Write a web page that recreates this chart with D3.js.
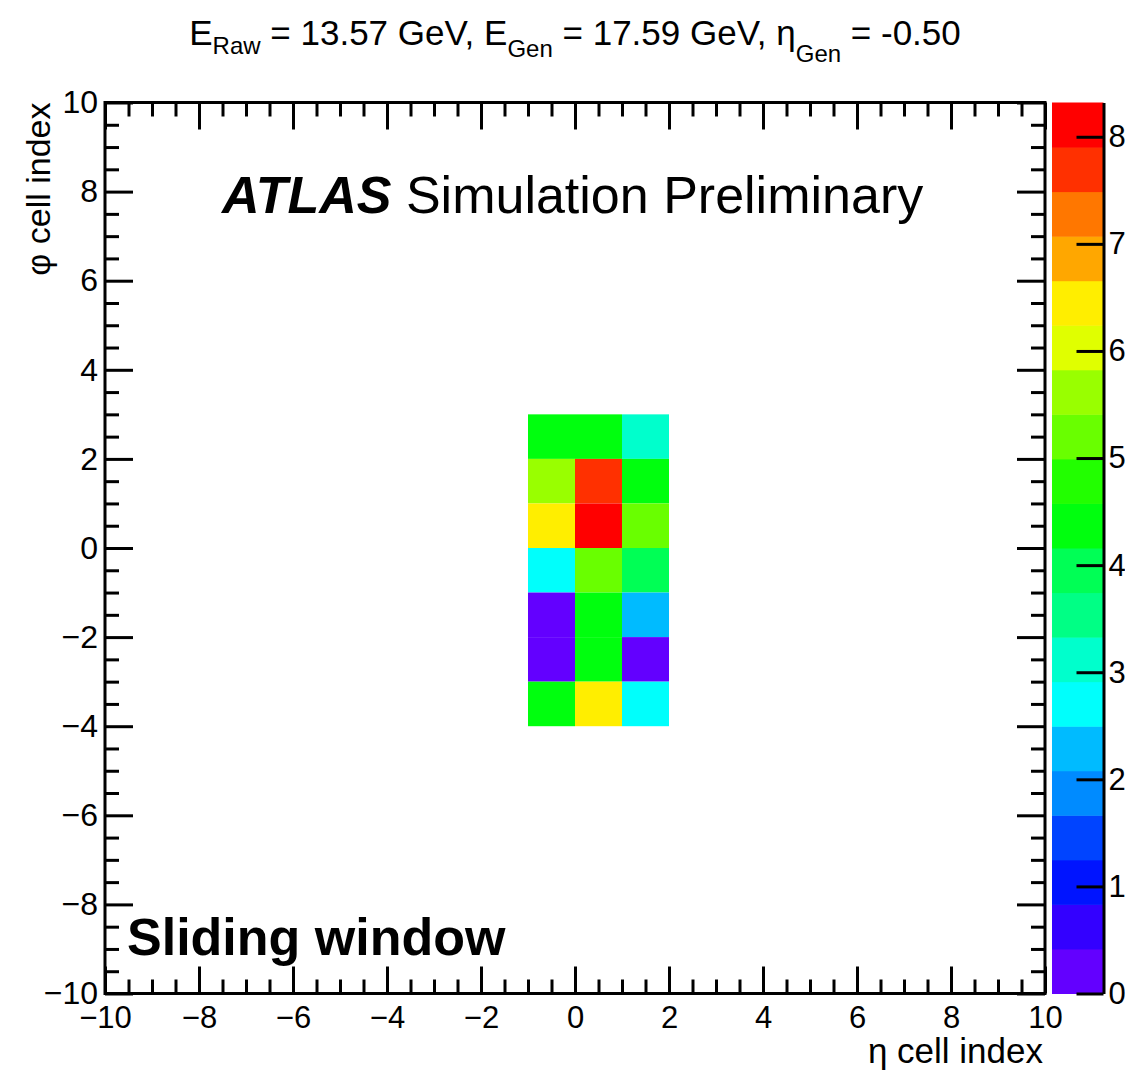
<!DOCTYPE html>
<html>
<head>
<meta charset="utf-8">
<script src="https://cdn.jsdelivr.net/npm/d3@7"></script>
<style>
body { margin: 0; background: #fff; }
text { font-family: "Liberation Sans", Arial, Helvetica, sans-serif; fill: #000; }
</style>
</head>
<body>
<div id="chart"></div>
<script>
/* cell lower edges in eta (columns) and phi (rows) */
var etaEdges = [-1, 0, 1];
var phiEdges = [2, 1, 0, -1, -2, -3, -4];

/* cell energies, one row per phi edge, one column per eta edge */
var cellValues = [
    [4.40, 4.35, 3.10],
    [5.60, 7.70, 4.40],
    [6.45, 8.32, 5.20],
    [2.70, 5.25, 3.90],
    [0.15, 4.40, 2.30],
    [0.20, 4.45, 0.25],
    [4.40, 6.50, 2.75]
];

var zMax = 8.32;          /* top of the colour bar */
var nContours = 20;       /* number of colour bands */
var axisMajor = [-10, -8, -6, -4, -2, 0, 2, 4, 6, 8, 10];
var zTickValues = [0, 1, 2, 3, 4, 5, 6, 7, 8];

var titleParts = [
    { t: "E" }, { t: "Raw", sub: 9 },
    { t: " = 13.57 GeV, E" }, { t: "Gen", sub: 12 },
    { t: " = 17.59 GeV, \u03b7" }, { t: "Gen", sub: 17 },
    { t: " = -0.50" }
];

var width = 1125, height = 1070;
var frame = { left: 105, right: 1045, top: 102.5, bottom: 993.5 };
var bar = { left: 1052, right: 1103.5 };

var svg = d3.select("#chart").append("svg")
    .attr("width", width)
    .attr("height", height);

var x = d3.scaleLinear().domain([-10, 10]).range([frame.left, frame.right]);
var y = d3.scaleLinear().domain([-10, 10]).range([frame.bottom, frame.top]);
var z = d3.scaleLinear().domain([0, zMax]).range([frame.bottom, frame.top]);

/* ROOT "pretty" palette: 50 colours, violet -> red */
var palette = d3.range(50).map(function (i) {
    var hue = 280 - (i + 1) * 280 / 50;
    return d3.hsl(hue, 1, 0.5).formatHex();
});
var bandColours = d3.range(nContours).map(function (j) {
    return palette[Math.min(49, Math.floor((j + 0.99) * 50 / nContours))];
});
var colour = d3.scaleQuantize().domain([0, zMax]).range(bandColours);

/* minor ticks every 0.5 */
var axisMinor = d3.range(-10, 10.01, 0.5).filter(function (v) { return axisMajor.indexOf(v) < 0; });

/* the cells */
var cells = [];
phiEdges.forEach(function (phi, r) {
    etaEdges.forEach(function (eta, c) {
        cells.push({ eta: eta, phi: phi, v: cellValues[r][c] });
    });
});

svg.append("g").selectAll("rect")
    .data(cells)
    .enter().append("rect")
    .attr("x", function (d) { return x(d.eta); })
    .attr("y", function (d) { return y(d.phi + 1); })
    .attr("width", function (d) { return x(d.eta + 1) - x(d.eta); })
    .attr("height", function (d) { return y(d.phi) - y(d.phi + 1); })
    .attr("fill", function (d) { return colour(d.v); });

/* axes: ticks inside the frame on all four sides */
function styleAxis(g) {
    g.select(".domain").remove();
    g.selectAll(".tick line").attr("stroke", "#000").attr("stroke-width", 3);
    g.selectAll("text").attr("fill", "#000").style("font-family", "Liberation Sans, Arial, sans-serif");
}

var bottomG = svg.append("g").attr("transform", "translate(0," + frame.bottom + ")");
bottomG.append("g").call(d3.axisBottom(x).tickValues(axisMinor).tickSize(-14).tickFormat("")).call(styleAxis);
bottomG.append("g").call(d3.axisBottom(x).tickValues(axisMajor).tickSize(-27).tickPadding(12)).call(styleAxis)
    .selectAll("text").style("font-size", "31px");

var topG = svg.append("g").attr("transform", "translate(0," + frame.top + ")");
topG.append("g").call(d3.axisTop(x).tickValues(axisMinor).tickSize(-14).tickFormat("")).call(styleAxis);
topG.append("g").call(d3.axisTop(x).tickValues(axisMajor).tickSize(-27).tickFormat("")).call(styleAxis);

var leftG = svg.append("g").attr("transform", "translate(" + frame.left + ",0)");
leftG.append("g").call(d3.axisLeft(y).tickValues(axisMinor).tickSize(-14).tickFormat("")).call(styleAxis);
leftG.append("g").call(d3.axisLeft(y).tickValues(axisMajor).tickSize(-28).tickPadding(7)).call(styleAxis)
    .selectAll("text").style("font-size", "32px");

var rightG = svg.append("g").attr("transform", "translate(" + frame.right + ",0)");
rightG.append("g").call(d3.axisRight(y).tickValues(axisMinor).tickSize(-14).tickFormat("")).call(styleAxis);
rightG.append("g").call(d3.axisRight(y).tickValues(axisMajor).tickSize(-28).tickFormat("")).call(styleAxis);

/* frame */
svg.append("rect")
    .attr("x", frame.left)
    .attr("y", frame.top)
    .attr("width", frame.right - frame.left)
    .attr("height", frame.bottom - frame.top)
    .attr("fill", "none")
    .attr("stroke", "#000")
    .attr("stroke-width", 3);

/* colour bar */
var bands = d3.range(nContours).map(function (j) {
    return { lo: j * zMax / nContours, hi: (j + 1) * zMax / nContours, c: bandColours[j] };
});
svg.append("g").selectAll("rect")
    .data(bands)
    .enter().append("rect")
    .attr("x", bar.left)
    .attr("width", bar.right - bar.left)
    .attr("y", function (d) { return z(d.hi); })
    .attr("height", function (d) { return z(d.lo) - z(d.hi) + 0.5; })
    .attr("fill", function (d) { return d.c; });

var zAxisG = svg.append("g").attr("transform", "translate(" + bar.right + ",0)")
    .call(d3.axisRight(z).tickValues(zTickValues).tickSize(-27).tickSizeOuter(0).tickPadding(5).tickFormat(d3.format("d")));
zAxisG.select(".domain").attr("stroke", "#000").attr("stroke-width", 3);
zAxisG.selectAll(".tick line").attr("stroke", "#000").attr("stroke-width", 3);
zAxisG.selectAll("text").attr("fill", "#000").style("font-size", "31px");

/* title */
var title = svg.append("text")
    .attr("x", 575)
    .attr("y", 45)
    .attr("text-anchor", "middle")
    .style("font-size", "35px");
var shift = 0;
titleParts.forEach(function (p) {
    var s = p.sub || 0;
    title.append("tspan")
        .attr("dy", s - shift)
        .style("font-size", p.sub ? "24px" : "35px")
        .text(p.t);
    shift = s;
});

/* axis titles */
svg.append("text")
    .attr("x", frame.right - 2)
    .attr("y", 1063)
    .attr("text-anchor", "end")
    .style("font-size", "35px")
    .text("\u03b7 cell index");

svg.append("text")
    .attr("transform", "translate(50," + frame.top + ") rotate(-90)")
    .attr("text-anchor", "end")
    .style("font-size", "34px")
    .text("\u03c6 cell index");

/* labels inside the plot */
var atlas = svg.append("text")
    .attr("x", 222)
    .attr("y", 213)
    .style("font-size", "52px");
atlas.append("tspan").style("font-weight", "bold").style("font-style", "italic").text("ATLAS");
atlas.append("tspan").text(" Simulation Preliminary");

svg.append("text")
    .attr("x", 127)
    .attr("y", 955)
    .style("font-size", "52px")
    .style("font-weight", "bold")
    .text("Sliding window");
</script>
</body>
</html>
